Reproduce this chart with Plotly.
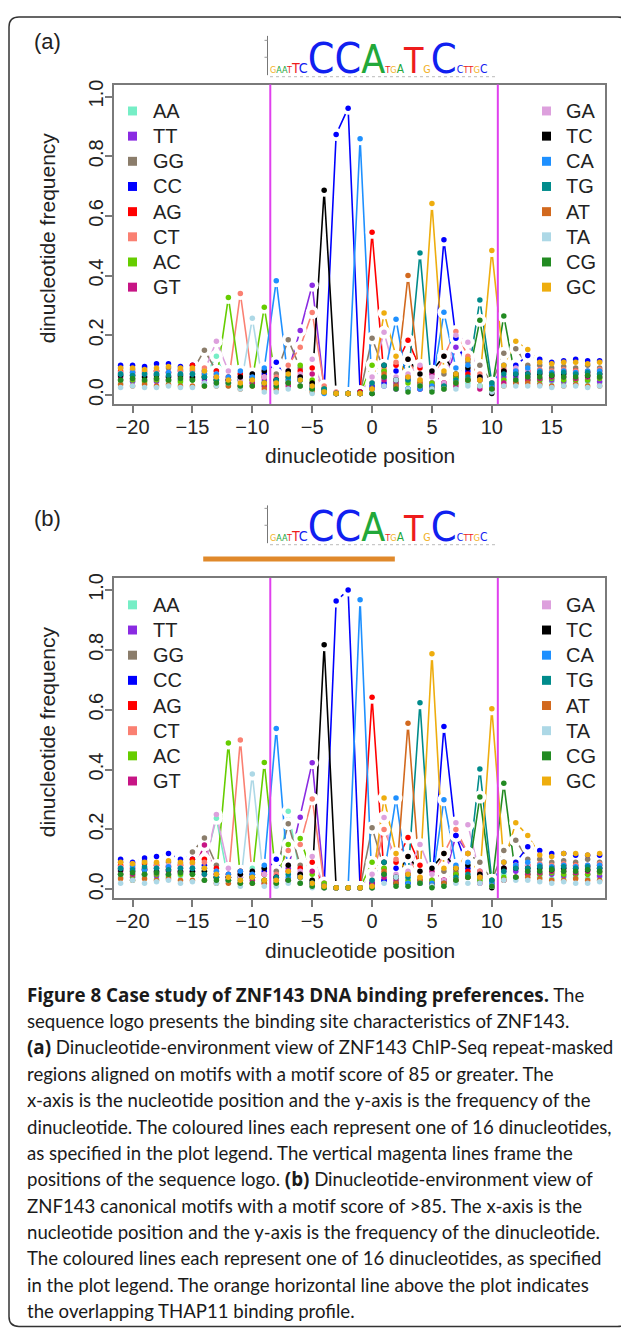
import plotly.graph_objects as go

# page is 629x1331, the html body has an 8px margin
OX, OY = 8, 8
FW, FH = 621, 1323

# ---------------- data ----------------
POS = list(range(-21, 20))
LEFT_KEYS = ["AA", "TT", "GG", "CC", "AG", "CT", "AC", "GT"]
RIGHT_KEYS = ["GA", "TC", "CA", "TG", "AT", "TA", "CG", "GC"]
COLORS = {"AA": "#76EEC6", "TT": "#8A2BE2", "GG": "#8B7D6B", "CC": "#0000FF",
          "AG": "#FF0000", "CT": "#FA8072", "AC": "#66CD00", "GT": "#C71585",
          "GA": "#DDA0DD", "TC": "#000000", "CA": "#1E90FF", "TG": "#008B8B",
          "AT": "#D2691E", "TA": "#ADD8E6", "CG": "#228B22", "GC": "#EEAD0E"}

# panel (a): positions -21 .. 19
AA_a = [.04, .045, .04, .05, .045, .04, .05, .06, .13, .03, .05, .07, .03, .02,
        .07, .05, .02, .01, .005, .005, .01, .02, .03, .04, .02, .03, .02, .02,
        .05, .04, .03, .02, .05, .05, .05, .04, .045, .04, .04, .045, .04]
TT_a = [.05, .045, .05, .045, .05, .05, .06, .05, .04, .04, .06, .04, .05, .03,
        .08, .216, .368, .02, .005, .005, .01, .02, .03, .02, .05, .02, .04, .03,
        .16, .12, .06, .02, .06, .06, .06, .05, .05, .045, .05, .05, .045]
GG_a = [.09, .085, .09, .08, .09, .085, .08, .15, .08, .05, .07, .06, .08, .07,
        .185, .09, .04, .01, .005, .005, .005, .19, .08, .05, .06, .04, .03, .07,
        .06, .11, .10, .04, .14, .155, .10, .10, .09, .095, .09, .10, .09]
CC_a = [.10, .10, .095, .105, .105, .095, .10, .08, .06, .05, .05, .06, .07, .11,
        .04, .05, .03, .02, .873, .961, .01, .03, .04, .08, .02, .03, .02, .52,
        .19, .08, .06, .03, .08, .10, .132, .12, .11, .115, .12, .115, .115]
AG_a = [.08, .075, .08, .08, .075, .08, .10, .07, .08, .06, .07, .05, .06, .05,
        .06, .08, .09, .01, .005, .005, .01, .545, .06, .10, .183, .09, .03, .04,
        .06, .07, .05, .02, .08, .08, .08, .08, .075, .08, .08, .075, .08]
CT_a = [.075, .08, .075, .08, .075, .08, .085, .09, .07, .04, .34, .05, .06, .06,
        .10, .16, .276, .03, .01, .005, .005, .04, .09, .11, .12, .05, .04, .13,
        .213, .13, .07, .03, .09, .08, .08, .085, .08, .085, .08, .08, .085]
AC_a = [.05, .05, .045, .05, .05, .045, .05, .06, .05, .327, .05, .05, .294, .04,
        .05, .10, .05, .02, .005, .005, .005, .10, .08, .05, .04, .03, .04, .03,
        .06, .05, .03, .03, .05, .04, .05, .05, .055, .05, .05, .05, .055]
GT_a = [.06, .055, .06, .055, .06, .06, .055, .04, .06, .05, .03, .04, .03, .05,
        .03, .06, .07, .01, .005, .005, .005, .02, .05, .04, .06, .02, .07, .04,
        .03, .05, .02, .02, .04, .04, .05, .055, .06, .06, .055, .06, .06]
GA_a = [.07, .07, .065, .07, .075, .07, .07, .08, .18, .08, .05, .07, .06, .04,
        .08, .07, .12, .01, .005, .005, .005, .06, .21, .06, .07, .10, .06, .04,
        .20, .177, .06, .03, .10, .09, .08, .075, .07, .07, .075, .07, .07]
TC_a = [.065, .065, .06, .065, .06, .065, .06, .06, .05, .05, .06, .07, .08, .05,
        .08, .06, .04, .686, .005, .005, .005, .005, .10, .05, .12, .07, .08, .13,
        .07, .09, .06, .005, .08, .07, .07, .07, .065, .07, .07, .065, .07]
CA_a = [.07, .075, .07, .07, .075, .07, .07, .07, .07, .06, .08, .06, .09, .383,
        .05, .05, .02, .005, .005, .005, .859, .02, .06, .254, .02, .02, .03, .277,
        .09, .10, .05, .03, .10, .08, .09, .08, .075, .08, .075, .08, .08]
TG_a = [.07, .065, .07, .07, .065, .07, .07, .06, .05, .04, .03, .05, .04, .05,
        .06, .05, .02, .02, .005, .005, .005, .04, .10, .03, .05, .476, .02, .03,
        .05, .06, .318, .04, .07, .07, .07, .075, .07, .075, .07, .075, .07]
AT_a = [.035, .03, .035, .03, .035, .03, .03, .03, .03, .03, .02, .03, .02, .02,
        .04, .03, .01, .01, .005, .005, .005, .02, .07, .03, .40, .04, .02, .02,
        .04, .05, .05, .02, .03, .04, .04, .035, .03, .03, .035, .03, .03]
TA_a = [.025, .03, .025, .025, .03, .025, .025, .04, .03, .04, .02, .257, .01, .01,
        .02, .03, .005, .01, .005, .005, .005, .01, .03, .05, .02, .03, .02, .02,
        .02, .03, .03, .01, .03, .03, .03, .03, .025, .03, .03, .025, .03]
CG_a = [.05, .055, .05, .055, .05, .055, .05, .03, .04, .04, .03, .03, .04, .03,
        .04, .03, .02, .01, .005, .005, .005, .005, .06, .02, .01, .03, .01, .02,
        .04, .05, .25, .02, .265, .05, .06, .06, .065, .06, .06, .065, .06]
GC_a = [.09, .09, .085, .09, .095, .09, .09, .08, .06, .05, .04, .05, .04, .04,
        .07, .05, .03, .01, .005, .005, .005, .02, .275, .13, .06, .05, .642, .08,
        .07, .12, .05, .484, .10, .18, .152, .11, .105, .11, .11, .105, .11]

# panel (b): positions -21 .. 19
AA_b = [.04, .03, .045, .035, .04, .045, .05, .08, .237, .03, .05, .07, .03, .02,
        .261, .05, .02, .01, .005, .005, .005, .02, .03, .04, .02, .03, .02, .02,
        .05, .04, .03, .02, .05, .04, .05, .04, .035, .04, .04, .035, .04]
TT_b = [.05, .04, .05, .045, .05, .055, .06, .05, .04, .03, .05, .04, .05, .03,
        .07, .241, .423, .02, .005, .005, .005, .02, .03, .02, .05, .02, .03, .03,
        .18, .12, .06, .02, .06, .06, .06, .05, .05, .045, .05, .05, .045]
GG_b = [.09, .08, .095, .085, .09, .085, .125, .171, .08, .04, .06, .05, .07, .06,
        .219, .08, .03, .01, .005, .005, .005, .206, .07, .04, .05, .03, .02, .06,
        .06, .12, .09, .03, .13, .164, .10, .10, .09, .095, .09, .10, .09]
CC_b = [.10, .09, .105, .11, .12, .10, .10, .08, .05, .04, .04, .05, .06, .10,
        .03, .04, .02, .01, .963, 1.0, .005, .02, .03, .07, .02, .02, .01, .544,
        .18, .07, .05, .02, .07, .09, .142, .13, .12, .12, .114, .114, .114]
AG_b = [.08, .07, .085, .08, .075, .08, .10, .10, .07, .05, .06, .04, .05, .04,
        .06, .07, .09, .01, .005, .005, .005, .642, .05, .09, .173, .08, .02, .03,
        .05, .06, .04, .01, .07, .08, .08, .08, .075, .08, .08, .075, .08]
CT_b = [.075, .085, .07, .08, .075, .08, .085, .09, .06, .03, .499, .04, .05, .05,
        .13, .15, .302, .02, .005, .005, .005, .03, .20, .10, .11, .04, .03, .12,
        .20, .12, .06, .02, .09, .08, .08, .085, .08, .085, .08, .08, .085]
AC_b = [.05, .045, .05, .05, .045, .05, .05, .06, .04, .489, .04, .04, .424, .03,
        .15, .17, .05, .02, .005, .005, .005, .09, .07, .04, .03, .02, .03, .02,
        .05, .04, .03, .03, .04, .04, .05, .05, .055, .05, .05, .05, .055]
GT_b = [.06, .05, .065, .055, .06, .06, .055, .148, .05, .04, .02, .03, .02, .04,
        .03, .05, .06, .01, .005, .005, .005, .02, .04, .03, .05, .02, .06, .03,
        .03, .04, .02, .02, .03, .04, .05, .055, .06, .06, .055, .06, .06]
GA_b = [.07, .065, .07, .07, .08, .07, .07, .07, .25, .07, .04, .06, .05, .03,
        .08, .06, .11, .01, .005, .005, .005, .05, .24, .05, .06, .15, .05, .03,
        .222, .216, .05, .02, .09, .08, .08, .075, .07, .07, .075, .07, .07]
TC_b = [.065, .06, .065, .06, .065, .06, .06, .06, .04, .04, .05, .06, .07, .04,
        .08, .05, .03, .817, .005, .005, .005, .005, .09, .04, .11, .06, .07, .12,
        .07, .08, .05, .005, .07, .07, .07, .07, .065, .07, .07, .065, .07]
CA_b = [.07, .075, .065, .07, .075, .07, .07, .07, .06, .05, .06, .05, .08, .537,
        .04, .04, .02, .005, .005, .005, .967, .01, .05, .305, .02, .02, .02, .299,
        .08, .09, .04, .02, .09, .08, .09, .08, .075, .08, .075, .08, .08]
TG_b = [.07, .065, .075, .07, .065, .07, .07, .05, .04, .03, .03, .04, .03, .04,
        .05, .04, .02, .01, .005, .005, .005, .03, .09, .02, .04, .623, .01, .02,
        .04, .05, .402, .03, .06, .07, .07, .075, .07, .075, .07, .075, .07]
AT_b = [.035, .03, .035, .03, .035, .03, .03, .03, .02, .02, .02, .02, .02, .02,
        .03, .02, .01, .005, .005, .005, .005, .01, .06, .02, .555, .03, .01, .02,
        .03, .04, .04, .01, .03, .04, .04, .035, .03, .03, .035, .03, .03]
TA_b = [.02, .03, .02, .025, .03, .02, .025, .03, .02, .03, .01, .385, .01, .01,
        .02, .02, .005, .005, .005, .005, .005, .005, .02, .04, .01, .02, .01, .01,
        .02, .02, .02, .01, .03, .03, .03, .025, .02, .025, .02, .02, .025]
CG_b = [.05, .055, .05, .055, .05, .055, .05, .03, .03, .03, .02, .02, .03, .02,
        .03, .02, .01, .005, .005, .005, .005, .005, .05, .01, .01, .02, .005, .01,
        .03, .04, .308, .01, .354, .04, .06, .06, .065, .06, .06, .065, .06]
GC_b = [.09, .085, .09, .09, .095, .09, .09, .07, .05, .04, .03, .04, .03, .03,
        .06, .04, .02, .01, .005, .005, .005, .01, .305, .12, .05, .04, .787, .07,
        .07, .12, .04, .603, .09, .222, .18, .115, .11, .12, .12, .115, .12]

FREQ_A = {"AA": AA_a, "TT": TT_a, "GG": GG_a, "CC": CC_a, "AG": AG_a, "CT": CT_a,
          "AC": AC_a, "GT": GT_a, "GA": GA_a, "TC": TC_a, "CA": CA_a, "TG": TG_a,
          "AT": AT_a, "TA": TA_a, "CG": CG_a, "GC": GC_a}
FREQ_B = {"AA": AA_b, "TT": TT_b, "GG": GG_b, "CC": CC_b, "AG": AG_b, "CT": CT_b,
          "AC": AC_b, "GT": GT_b, "GA": GA_b, "TC": TC_b, "CA": CA_b, "TG": TG_b,
          "AT": AT_b, "TA": TA_b, "CG": CG_b, "GC": GC_b}

X_TICKS = [-20, -15, -10, -5, 0, 5, 10, 15]
X_TICKTEXT = ["\u221220", "\u221215", "\u221210", "\u22125", "0", "5", "10", "15"]
Y_TICKS = [0.0, 0.2, 0.4, 0.6, 0.8, 1.0]
Y_TICKTEXT = ["0.0", "0.2", "0.4", "0.6", "0.8", "1.0"]
LOGO_SPAN = [-8.5, 10.5]          # magenta frame
THAP11_SPAN = [-14.1, 1.9]        # orange bar (panel b)

LOGO_LETTERS = ["G", "A", "A", "T", "T", "C", "C", "C", "A", "T",
                "G", "A", "T", "G", "C", "C", "T", "T", "G", "C"]
LOGO_BITS = [.3, .35, .2, .3, .6, .6, 1.8, 1.8, 1.65, .4,
             .35, .5, 1.5, .45, 1.75, .45, .3, .4, .4, .5]
LOGO_COLORS = {"A": "#22A83A", "C": "#1020F0", "G": "#F2B01E", "T": "#EE1C1C"}

CAPTION_LINES = [
    "<b>Figure 8 Case study of ZNF143 DNA binding preferences.</b> The",
    "sequence logo presents the binding site characteristics of ZNF143.",
    "<b>(a)</b> Dinucleotide-environment view of ZNF143 ChIP-Seq repeat-masked",
    "regions aligned on motifs with a motif score of 85 or greater. The",
    "x-axis is the nucleotide position and the y-axis is the frequency of the",
    "dinucleotide. The coloured lines each represent one of 16 dinucleotides,",
    "as specified in the plot legend. The vertical magenta lines frame the",
    "positions of the sequence logo. <b>(b)</b> Dinucleotide-environment view of",
    "ZNF143 canonical motifs with a motif score of &gt;85. The x-axis is the",
    "nucleotide position and the y-axis is the frequency of the dinucleotide.",
    "The coloured lines each represent one of 16 dinucleotides, as specified",
    "in the plot legend. The orange horizontal line above the plot indicates",
    "the overlapping THAP11 binding profile.",
]

for d in (FREQ_A, FREQ_B):
    for k, v in d.items():
        assert len(v) == len(POS), (k, len(v))


# ---------------- helpers (page pixels -> paper) ----------------
def px(x):
    return (x - OX) / FW


def py(y):
    return 1 - (y - OY) / FH


SANS = "Arial, Liberation Sans, Helvetica, sans-serif"
LOGO_FONT = "Liberation Sans Narrow, DejaVu Sans Condensed, Arial, sans-serif"
AX_FONT = dict(family=SANS, size=20, color="#222222")
FRAME = "#7a7a7a"

fig = go.Figure()

panels = [
    dict(freq=FREQ_A, xa="x", ya="y", top=80, bottom=401, label="(a)", label_y=37,
         logo_base=69.5, logo_top=31, leg_y0=106.5, bar=False),
    dict(freq=FREQ_B, xa="x2", ya="y2", top=576, bottom=898, label="(b)", label_y=516,
         logo_base=540, logo_top=503, leg_y0=603, bar=True),
]

shapes = []
annotations = []
keys = LEFT_KEYS + RIGHT_KEYS
BIT_PX = 17.0

for p in panels:
    freq = p["freq"]
    for k in keys:
        fig.add_trace(go.Scatter(x=POS, y=freq[k], mode="lines", xaxis=p["xa"], yaxis=p["ya"],
                                 line=dict(color=COLORS[k], width=1.6), showlegend=False,
                                 hoverinfo="skip"))
    # white gaps around points (R type = "b")
    mx, my = [], []
    for k in keys:
        mx += POS
        my += freq[k]
    fig.add_trace(go.Scatter(x=mx, y=my, mode="markers", xaxis=p["xa"], yaxis=p["ya"],
                             marker=dict(color="white", size=13, line=dict(width=0)),
                             showlegend=False, hoverinfo="skip"))
    for k in keys:
        fig.add_trace(go.Scatter(x=POS, y=freq[k], mode="markers", xaxis=p["xa"], yaxis=p["ya"],
                                 marker=dict(color=COLORS[k], size=5.5, line=dict(width=0)),
                                 name=k, showlegend=False))
    for xv in LOGO_SPAN:
        shapes.append(dict(type="line", xref=p["xa"], yref=p["ya"] + " domain", x0=xv, x1=xv,
                           y0=0, y1=1, line=dict(color="#E040EE", width=2), layer="above"))
    # legends
    for i, k in enumerate(LEFT_KEYS):
        yy = p["leg_y0"] + 25.3 * i
        shapes.append(dict(type="rect", xref="paper", yref="paper", x0=px(128), x1=px(137),
                           y0=py(yy + 4.5), y1=py(yy - 4.5), fillcolor=COLORS[k],
                           line=dict(width=0), layer="above"))
        annotations.append(dict(x=px(151), y=py(yy), xref="paper", yref="paper", text=k,
                                showarrow=False, xanchor="left", yanchor="middle", font=AX_FONT))
    for i, k in enumerate(RIGHT_KEYS):
        yy = p["leg_y0"] + 25.3 * i
        shapes.append(dict(type="rect", xref="paper", yref="paper", x0=px(542), x1=px(551),
                           y0=py(yy + 4.5), y1=py(yy - 4.5), fillcolor=COLORS[k],
                           line=dict(width=0), layer="above"))
        annotations.append(dict(x=px(564), y=py(yy), xref="paper", yref="paper", text=k,
                                showarrow=False, xanchor="left", yanchor="middle", font=AX_FONT))
    # axis titles
    mid = (p["top"] + p["bottom"]) / 2
    annotations.append(dict(x=px(47), y=py(mid - 6), xref="paper", yref="paper",
                            text="dinucleotide frequency", textangle=-90, showarrow=False,
                            xanchor="center", yanchor="middle",
                            font=dict(family=SANS, size=21, color="#222222")))
    annotations.append(dict(x=px(360), y=py(p["bottom"] + 52), xref="paper", yref="paper",
                            text="dinucleotide position", showarrow=False,
                            xanchor="center", yanchor="middle",
                            font=dict(family=SANS, size=21, color="#222222")))
    annotations.append(dict(x=px(47), y=py(p["label_y"]), xref="paper", yref="paper",
                            text=p["label"], showarrow=False, xanchor="center", yanchor="middle",
                            font=dict(family=SANS, size=22, color="#222222")))
    # sequence logo: axis + one text line with letters scaled by information content
    base = p["logo_base"]
    shapes.append(dict(type="line", xref="paper", yref="paper", x0=px(267.5), x1=px(267.5),
                       y0=py(p["logo_top"]), y1=py(base + 1), line=dict(color="#777777", width=1)))
    for bit in (1, 2):
        yb = base - bit * BIT_PX
        shapes.append(dict(type="line", xref="paper", yref="paper", x0=px(264.5), x1=px(267.5),
                           y0=py(yb), y1=py(yb), line=dict(color="#999999", width=1)))
    sizes = [max(9.0, b * BIT_PX / 0.72) for b in LOGO_BITS]
    fs_max = max(sizes)
    spans = "".join(
        f"<span style='font-size:{s:.1f}px;color:{LOGO_COLORS[L]}'>{L}</span>"
        for L, s in zip(LOGO_LETTERS, sizes))
    annotations.append(dict(x=px(269), y=py(base + 0.212 * fs_max + 1), xref="paper",
                            yref="paper", text=spans, showarrow=False, xanchor="left",
                            yanchor="bottom", borderpad=0,
                            font=dict(family=LOGO_FONT, size=fs_max, color="#1020F0")))
    shapes.append(dict(type="line", xref="paper", yref="paper", x0=px(270), x1=px(497),
                       y0=py(base + 2.5), y1=py(base + 2.5),
                       line=dict(color="#c8c8c8", width=1.2, dash="dot")))
    if p["bar"]:
        shapes.append(dict(type="line", xref=p["xa"], yref="paper", x0=THAP11_SPAN[0],
                           x1=THAP11_SPAN[1], y0=py(557), y1=py(557),
                           line=dict(color="#E0892B", width=5)))

# outer rounded border
r = 10
x0b, x1b, y0b, y1b = 9, 627.5, 12, 1328.5
path = (f"M {px(x0b + r)},{py(y0b)} L {px(x1b - r)},{py(y0b)} "
        f"Q {px(x1b)},{py(y0b)} {px(x1b)},{py(y0b + r)} L {px(x1b)},{py(y1b - r)} "
        f"Q {px(x1b)},{py(y1b)} {px(x1b - r)},{py(y1b)} L {px(x0b + r)},{py(y1b)} "
        f"Q {px(x0b)},{py(y1b)} {px(x0b)},{py(y1b - r)} L {px(x0b)},{py(y0b + r)} "
        f"Q {px(x0b)},{py(y0b)} {px(x0b + r)},{py(y0b)} Z")
shapes.append(dict(type="path", xref="paper", yref="paper", path=path,
                   line=dict(color="#333333", width=1.5)))

# caption (bold runs set wider, as in the reference)
BOLD_OPEN = "<span style='font-family:Open Sans;font-size:18.8px'><b>"
BOLD_CLOSE = "</b></span>"
for i, line in enumerate(CAPTION_LINES):
    txt = line.replace("<b>", BOLD_OPEN).replace("</b>", BOLD_CLOSE)
    annotations.append(dict(x=px(25), y=py(995 + 26.5 * i), xref="paper", yref="paper",
                            text=txt, showarrow=False, xanchor="left", yanchor="middle",
                            font=dict(family="Lato, Open Sans, sans-serif", size=18.6,
                                      color="#1a1a1a")))

xdom = [px(114), px(605)]
common_x = dict(range=[-21.55, 19.45], tickmode="array", tickvals=X_TICKS, ticktext=X_TICKTEXT,
                showline=True, mirror=True, linecolor=FRAME, linewidth=1.5, ticks="outside",
                ticklen=7, tickcolor=FRAME, tickwidth=1.5, showgrid=False, zeroline=False,
                tickfont=AX_FONT, ticklabelstandoff=-3)
common_y = dict(range=[-0.03, 1.04], tickmode="array", tickvals=Y_TICKS, ticktext=Y_TICKTEXT,
                showline=True, mirror=True, linecolor=FRAME, linewidth=1.5, ticks="outside",
                ticklen=7, tickcolor=FRAME, tickwidth=1.5, showgrid=False, zeroline=False,
                tickfont=AX_FONT, tickangle=-90, ticklabelstandoff=-6)

fig.update_layout(
    width=FW, height=FH, margin=dict(l=0, r=0, t=0, b=0),
    paper_bgcolor="white", plot_bgcolor="white", showlegend=False,
    xaxis=dict(domain=xdom, anchor="y", **common_x),
    yaxis=dict(domain=[py(401), py(80)], anchor="x", **common_y),
    xaxis2=dict(domain=xdom, anchor="y2", **common_x),
    yaxis2=dict(domain=[py(898), py(576)], anchor="x2", **common_y),
    shapes=shapes, annotations=annotations,
)

fig.write_html("out.html")
